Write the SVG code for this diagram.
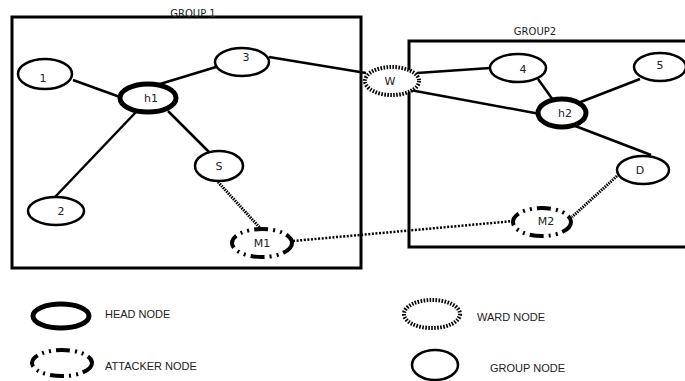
<svg xmlns="http://www.w3.org/2000/svg" width="685" height="381" viewBox="0 0 685 381">
<style>
.grp{fill:none;stroke:#000;stroke-width:3}
.gl{font-family:"DejaVu Sans",sans-serif;font-size:10px;fill:#222;text-anchor:middle}
.n{fill:#fff;stroke:#000;stroke-width:2.5}
.head{fill:#fff;stroke:#000;stroke-width:5}
.ward{fill:#fff;stroke:#000;stroke-width:4;stroke-dasharray:1.6 1.4}
.att{fill:#fff;stroke:#000;stroke-width:4;stroke-dasharray:14 5 2 5 2 5}
.t{font-family:"DejaVu Sans",sans-serif;font-size:11px;fill:#222;text-anchor:middle;dominant-baseline:central}
.e{stroke:#000;stroke-width:2.5;fill:none}
.d{stroke:#000;stroke-width:3;fill:none;stroke-dasharray:1.5 1}
.d2{stroke:#000;stroke-width:2.5;fill:none;stroke-dasharray:2 1.6}
.lg{font-family:"Liberation Sans",Arial,sans-serif;font-size:11px;fill:#222}
</style>
<g id="group1">
<rect class="grp" x="12" y="17" width="349" height="251"/>
<text class="gl" x="193" y="17">GROUP 1</text>
</g>
<g id="group2">
<rect class="grp" x="409" y="41" width="290" height="206"/>
<text class="gl" x="535" y="35">GROUP2</text>
</g>
<g id="connectors">
<line class="e" x1="73" y1="80" x2="120" y2="97"/>
<line class="e" x1="160" y1="84" x2="216" y2="67"/>
<line class="e" x1="136" y1="112" x2="55" y2="197"/>
<line class="e" x1="168" y1="111" x2="210" y2="153"/>
<line class="e" x1="269" y1="57" x2="366" y2="73"/>
<line class="e" x1="417" y1="73" x2="490" y2="68"/>
<line class="e" x1="410" y1="90" x2="540" y2="114"/>
<line class="e" x1="538" y1="79" x2="553" y2="100"/>
<line class="e" x1="640" y1="79" x2="578" y2="103"/>
<line class="e" x1="570" y1="124" x2="651" y2="155"/>
<line class="d" x1="218" y1="182" x2="260" y2="228"/>
<line class="d2" x1="293" y1="241" x2="514" y2="221"/>
<line class="d" x1="617" y1="176" x2="572" y2="217"/>
</g>
<g id="n1"><ellipse class="n" cx="45" cy="74" rx="27" ry="15"/><text class="t" x="43" y="78">1</text></g>
<g id="h1"><ellipse class="head" cx="148" cy="98" rx="28" ry="14"/><text class="t" x="151" y="98">h1</text></g>
<g id="n3"><ellipse class="n" cx="242" cy="62" rx="27" ry="14"/><text class="t" x="246" y="57">3</text></g>
<g id="S"><ellipse class="n" cx="219" cy="166" rx="24" ry="15"/><text class="t" x="219" y="166">S</text></g>
<g id="n2"><ellipse class="n" cx="56" cy="211" rx="28" ry="14"/><text class="t" x="61" y="211">2</text></g>
<g id="M1"><ellipse class="att" cx="262" cy="243" rx="30" ry="14"/><text class="t" x="262" y="243">M1</text></g>
<g id="W"><ellipse class="ward" cx="392" cy="81" rx="27" ry="14"/><text class="t" x="390" y="81">W</text></g>
<g id="n4"><ellipse class="n" cx="518" cy="68" rx="28" ry="14"/><text class="t" x="523" y="69">4</text></g>
<g id="n5"><ellipse class="n" cx="660" cy="67" rx="26" ry="14"/><text class="t" x="660" y="65">5</text></g>
<g id="h2"><ellipse class="head" cx="562" cy="113" rx="24" ry="14"/><text class="t" x="565" y="113">h2</text></g>
<g id="D"><ellipse class="n" cx="643" cy="170" rx="26" ry="14"/><text class="t" x="640" y="170">D</text></g>
<g id="M2"><ellipse class="att" cx="542" cy="222" rx="29" ry="14"/><text class="t" x="546" y="221">M2</text></g>
<g id="legend-head"><ellipse class="head" cx="61" cy="316" rx="28" ry="12"/><text class="lg" x="105" y="318">HEAD NODE</text></g>
<g id="legend-attacker"><ellipse class="att" cx="62" cy="363" rx="30" ry="13"/><text class="lg" x="105" y="370">ATTACKER NODE</text></g>
<g id="legend-ward"><ellipse class="ward" cx="432" cy="314" rx="28" ry="14"/><text class="lg" x="477" y="321">WARD NODE</text></g>
<g id="legend-group"><ellipse class="n" cx="435" cy="365" rx="23" ry="15"/><text class="lg" x="490" y="372">GROUP NODE</text></g>
</svg>
